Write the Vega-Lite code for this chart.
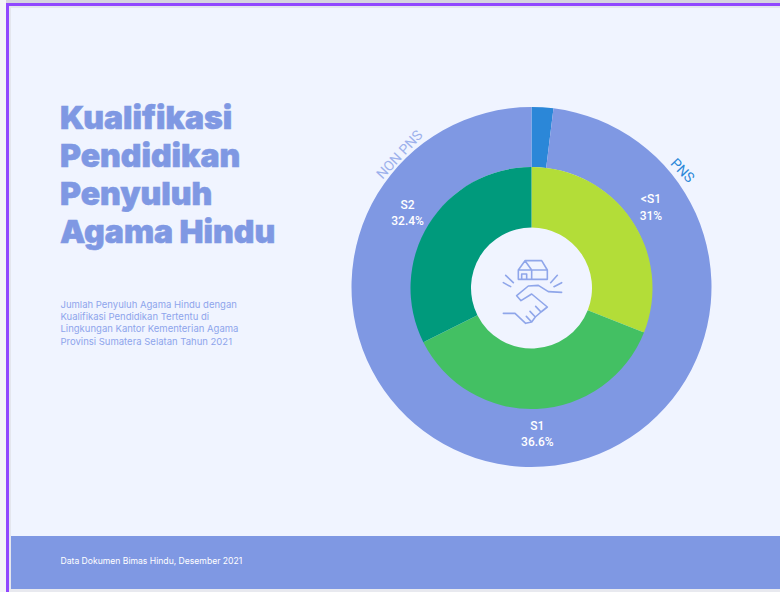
{
"$schema":"https://vega.github.io/schema/vega-lite/v6.json",
"width":780,"height":592,"autosize":{"type":"fit","contains":"padding"},"padding":0,
"background":"#f0f4ff","view":{"stroke":null},
"datasets":{
"outer":[{"status":"PNS","value":1.95},{"status":"NON PNS","value":98.05}],
"inner":[{"level":"<S1","value":31,"label":"<S1\n31%"},{"level":"S1","value":36.6,"label":"S1\n36.6%"},{"level":"S2","value":32.4,"label":"S2\n32.4%"}],
"title":[{"t":"Kualifikasi\nPendidikan\nPenyuluh\nAgama Hindu"}],
"sub":[{"t":"Jumlah Penyuluh Agama Hindu dengan\nKualifikasi Pendidikan Tertentu di\nLingkungan Kantor Kementerian Agama\nProvinsi Sumatera Selatan Tahun 2021"}],
"foot":[{"t":"Data Dokumen Bimas Hindu, Desember 2021"}],
"one":[{"n":1}]
},
"layer":[
{"data":{"name":"one"},"mark":{"type":"rect","fill":"#f4f4f8"},"encoding":{"x":{"datum":0,"type":"quantitative","scale":{"domain":[0,780],"range":[0,780],"nice":false,"zero":false},"axis":null},"x2":{"datum":6},"y":{"datum":0,"type":"quantitative","scale":{"domain":[0,592],"range":[0,592],"nice":false,"zero":false},"axis":null},"y2":{"datum":592}}},
{"data":{"name":"one"},"mark":{"type":"rect","fill":"#e4e6ee"},"encoding":{"x":{"datum":9,"type":"quantitative"},"x2":{"datum":11},"y":{"datum":6,"type":"quantitative"},"y2":{"datum":592}}},
{"data":{"name":"one"},"mark":{"type":"rect","fill":"#d6d4de"},"encoding":{"x":{"datum":6,"type":"quantitative"},"x2":{"datum":780},"y":{"datum":0,"type":"quantitative"},"y2":{"datum":3}}},
{"data":{"name":"one"},"mark":{"type":"rect","fill":"#e4e6ee"},"encoding":{"x":{"datum":9,"type":"quantitative"},"x2":{"datum":780},"y":{"datum":6,"type":"quantitative"},"y2":{"datum":8}}},
{"data":{"name":"one"},"mark":{"type":"rect","fill":"#e8e9ef"},"encoding":{"x":{"datum":9,"type":"quantitative"},"x2":{"datum":780},"y":{"datum":589,"type":"quantitative"},"y2":{"datum":592}}},
{"data":{"name":"one"},"mark":{"type":"rect","fill":"#9147ff"},"encoding":{"x":{"datum":6,"type":"quantitative"},"x2":{"datum":9},"y":{"datum":3,"type":"quantitative"},"y2":{"datum":592}}},
{"data":{"name":"one"},"mark":{"type":"rect","fill":"#9147ff"},"encoding":{"x":{"datum":6,"type":"quantitative"},"x2":{"datum":780},"y":{"datum":3,"type":"quantitative"},"y2":{"datum":6}}},
{"data":{"name":"one"},"mark":{"type":"rect","fill":"#7f98e3"},"encoding":{"x":{"datum":11,"type":"quantitative"},"x2":{"datum":780},"y":{"datum":536,"type":"quantitative"},"y2":{"datum":589}}},
{"data":{"name":"outer"},"mark":{"type":"arc","radius":180,"radius2":120},"encoding":{"x":{"datum":531.5,"type":"quantitative"},"y":{"datum":287,"type":"quantitative"},"theta":{"field":"value","type":"quantitative","stack":true,"scale":{"domain":[0,100],"range":[0,6.2832]}},"order":{"field":"status","sort":"descending"},"color":{"field":"status","type":"nominal","legend":null,"scale":{"domain":["PNS","NON PNS"],"range":["#2b87d8","#7f98e3"]}}}},
{"data":{"name":"inner"},"mark":{"type":"arc","radius":121,"radius2":60.5},"encoding":{"x":{"datum":531.5,"type":"quantitative"},"y":{"datum":288,"type":"quantitative"},"theta":{"field":"value","type":"quantitative","stack":true,"scale":{"domain":[0,100],"range":[0,6.2832]}},"order":{"field":"level"},"fill":{"field":"level","type":"nominal","legend":null,"scale":{"domain":["<S1","S1","S2"],"range":["#b3dd38","#43c063","#009a7c"]}}}},
{"data":{"name":"inner"},"mark":{"type":"text","radius":145,"dy":-6,"lineBreak":"\n","lineHeight":16.5,"font":"Roboto","fontSize":12,"fontWeight":500,"fill":"#ffffff","align":"center","baseline":"middle"},"encoding":{"x":{"datum":531,"type":"quantitative"},"y":{"datum":287,"type":"quantitative"},"theta":{"field":"value","type":"quantitative","stack":true,"scale":{"domain":[0,100],"range":[0,6.2832]}},"order":{"field":"level"},"text":{"field":"label"}}},
{"data":{"values":[{"t":"NON PNS"}]},"mark":{"type":"text","angle":-47,"font":"Roboto","fontSize":14,"fill":"#9db1ec","align":"center","baseline":"middle"},"encoding":{"x":{"datum":400,"type":"quantitative"},"y":{"datum":155,"type":"quantitative"},"text":{"field":"t"}}},
{"data":{"values":[{"t":"PNS"}]},"mark":{"type":"text","angle":46,"font":"Roboto","fontSize":14,"fill":"#2b87d8","align":"center","baseline":"middle"},"encoding":{"x":{"datum":682,"type":"quantitative"},"y":{"datum":171,"type":"quantitative"},"text":{"field":"t"}}},
{"data":{"name":"one"},"mark":{"type":"point","filled":false,"opacity":1,"size":0.4444,"strokeWidth":1.6,"strokeJoin":"round","strokeCap":"round","stroke":"#8fa6ea","fill":null,"shape":"M-38,-51L-38,-23L49,-23L49,-51L32,-79L-18,-79L-38,-51L2,-51L49,-51M-18,-79L2,-51L2,-23M-28,-23L-28,-39L-13,-39L-13,-23M-76,-35L-53,-13M-83,-13L-61,-1M79,-35L59,-13M92,-13L69,-1M92,16L52,14L22,-5L-8,-3L-43,26L-30,41L2,21L49,60L30,75L13,90L2,105L-16,109L-48,79L-83,79M30,75L14,58M13,90L-3,73M2,105L-14,88"},"encoding":{"x":{"datum":531,"type":"quantitative"},"y":{"datum":287,"type":"quantitative"}}},
{"data":{"name":"title"},"mark":{"type":"text","lineBreak":"\n","lineHeight":38,"font":"Inter","fontSize":32,"fontWeight":900,"stroke":"#7f98e3","strokeWidth":0.6,"fill":"#7f98e3","align":"left","baseline":"middle"},"encoding":{"x":{"datum":60,"type":"quantitative"},"y":{"datum":119,"type":"quantitative"},"text":{"field":"t"}}},
{"data":{"name":"sub"},"mark":{"type":"text","lineBreak":"\n","lineHeight":12.2,"font":"Inter","fontSize":9.5,"fill":"#8ea5ec","align":"left","baseline":"middle"},"encoding":{"x":{"datum":60.5,"type":"quantitative"},"y":{"datum":305,"type":"quantitative"},"text":{"field":"t"}}},
{"data":{"name":"foot"},"mark":{"type":"text","font":"Inter","fontSize":8.6,"fill":"#ffffff","align":"left","baseline":"middle"},"encoding":{"x":{"datum":60.5,"type":"quantitative"},"y":{"datum":561,"type":"quantitative"},"text":{"field":"t"}}}
]
}
